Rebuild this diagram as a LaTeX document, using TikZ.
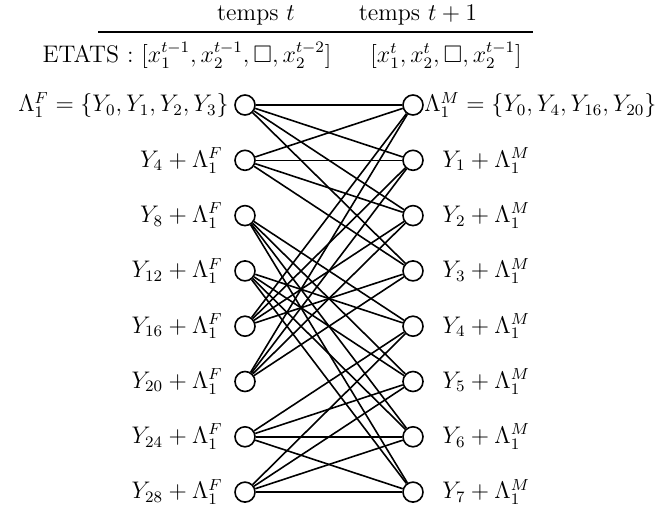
\documentclass[tikz,border=0pt,12pt]{standalone}
\usepackage{amssymb}
\begin{document}
\begin{tikzpicture}[x=0.5pt,y=-0.5pt,
  st/.style={circle,draw,line width=0.8pt,minimum size=10pt,inner sep=0pt},
  lbl/.style={inner sep=0pt},
  edge/.style={line width=0.8pt},
  rule/.style={line width=0.8pt}]
\useasboundingbox (0,0) rectangle (655,511);
% header
\node[lbl] (tt) at (256,15) {temps $t$};
\node[lbl] (tt1) at (418,15) {temps $t+1$};
\coordinate (ra) at (98,32);
\coordinate (rb) at (533,32);
\draw[rule] (ra) -- (rb);
\node[lbl] (et) at (187,55) {ETATS : $[x_1^{t-1},x_2^{t-1},\Box,x_2^{t-2}]$};
\node[lbl] (et1) at (446,55) {$[x_1^{t},x_2^{t},\Box,x_2^{t-1}]$};
% states
\foreach \i in {0,...,7} {
  \node[st] (L\i) at (245,{105+55.3*\i}) {};
  \node[st] (R\i) at (413,{105+55.3*\i}) {};
}
% edges
\foreach \a in {0,1,4,5} \foreach \b in {0,...,3} \draw[edge] (L\a) -- (R\b);
\foreach \a in {2,3,6,7} \foreach \b in {4,...,7} \draw[edge] (L\a) -- (R\b);
% labels
\node[lbl,anchor=east] (lt0) at (229,105) {$\Lambda_1^F=\{Y_0,Y_1,Y_2,Y_3\}$};
\node[lbl,anchor=west] (rt0) at (424,105) {$\Lambda_1^M=\{Y_0,Y_4,Y_{16},Y_{20}\}$};
\foreach \i in {1,...,7} {
  \pgfmathtruncatemacro{\k}{4*\i}
  \node[lbl,anchor=east] (lt\i) at (223,{105+55.3*\i}) {$Y_{\k}+\Lambda_1^F$};
  \node[lbl,anchor=west] (rt\i) at (442,{105+55.3*\i}) {$Y_{\i}+\Lambda_1^M$};
}
\end{tikzpicture}
\end{document}
